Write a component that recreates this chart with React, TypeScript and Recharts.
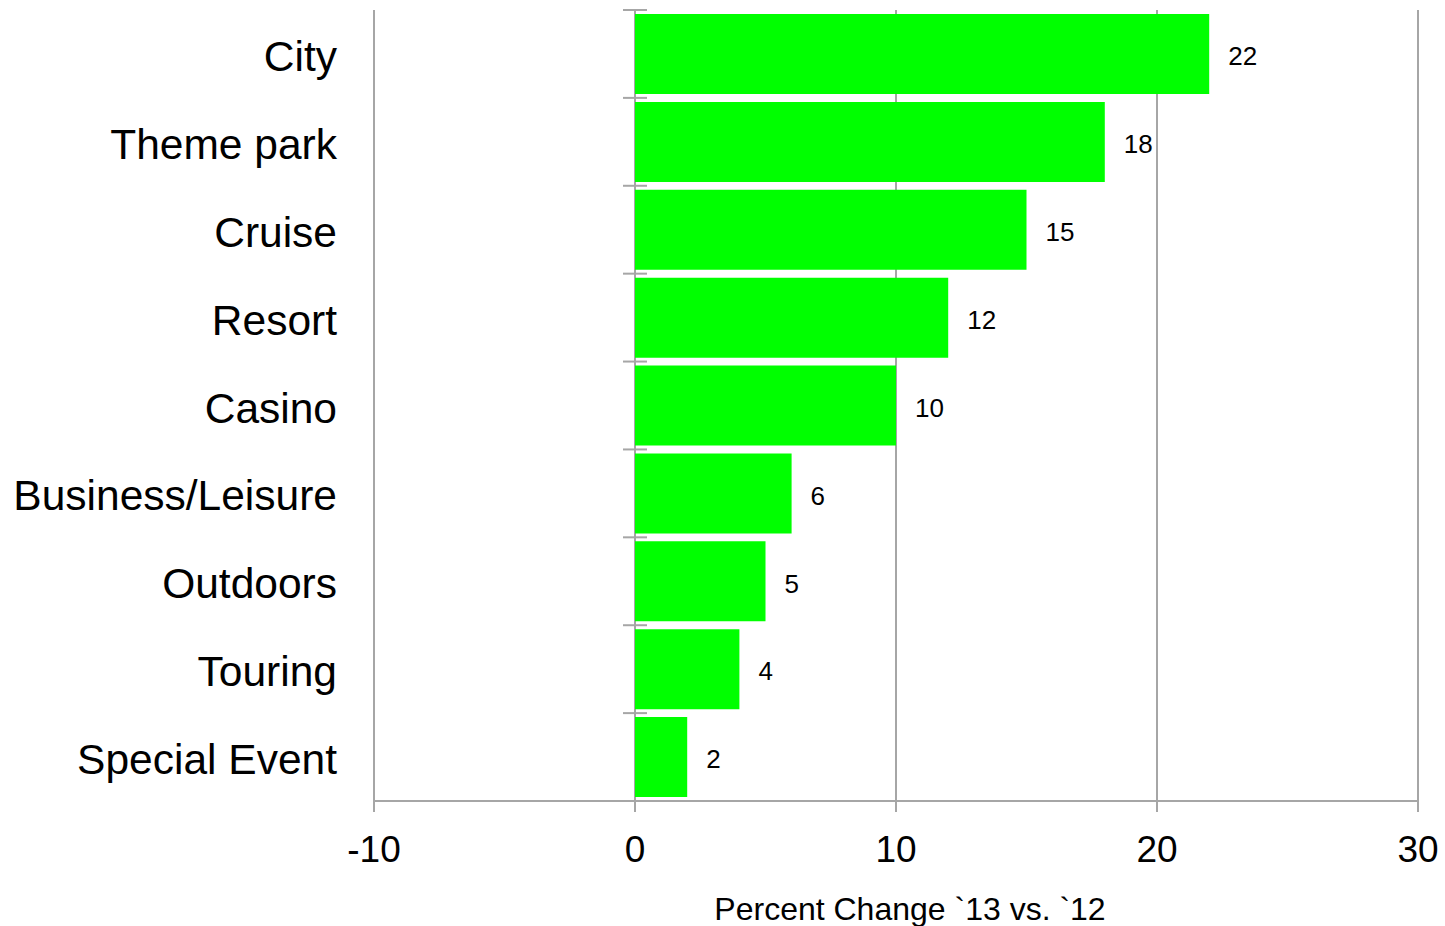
import { BarChart, Bar, XAxis, YAxis, CartesianGrid, LabelList, Customized, usePlotArea } from "recharts";

const categories = ["City", "Theme park", "Cruise", "Resort", "Casino", "Business/Leisure", "Outdoors", "Touring", "Special Event"];
const changes = [22, 18, 15, 12, 10, 6, 5, 4, 2];
const xTicks = [-10, 0, 10, 20, 30];

const data = categories.map((name, i) => ({ name, change: changes[i] }));

const GRID = "#a6a6a6";
const FONT = "'Liberation Sans', Arial, sans-serif";

// short ticks across the zero line, at the category boundaries
function BoundaryTicks() {
  const area = usePlotArea();
  if (!area) return null;
  const min = xTicks[0];
  const max = xTicks[xTicks.length - 1];
  const zeroX = area.x + (area.width * (0 - min)) / (max - min);
  const step = area.height / categories.length;
  return (
    <g>
      {categories.map((_, i) => (
        <line
          key={i}
          x1={zeroX - 12}
          x2={zeroX + 12}
          y1={area.y + i * step}
          y2={area.y + i * step}
          stroke={GRID}
          strokeWidth={2}
        />
      ))}
    </g>
  );
}

export default function App() {
  return (
    <div style={{ position: "absolute", left: 0, top: 0, background: "#fff" }}>
      <BarChart
        width={1445}
        height={926}
        data={data}
        layout="vertical"
        margin={{ top: 10, right: 27, left: 0, bottom: 0 }}
        barCategoryGap={4}
      >
        <CartesianGrid horizontal={false} stroke={GRID} strokeWidth={2} />
        <XAxis
          type="number"
          domain={[-10, 30]}
          ticks={xTicks}
          height={125}
          stroke={GRID}
          strokeWidth={2}
          tickSize={11}
          tickMargin={24}
          tick={{ fill: "#000", fontSize: 37, fontFamily: FONT }}
          label={{
            value: "Percent Change `13 vs. `12",
            position: "insideBottom",
            offset: 6,
            dx: 14,
            fill: "#000",
            fontSize: 32,
            fontFamily: FONT,
          }}
        />
        <YAxis
          type="category"
          dataKey="name"
          width={374}
          axisLine={false}
          tickLine={false}
          tickSize={0}
          tickMargin={37}
          interval={0}
          tick={{ fill: "#000", fontSize: 42.5, fontFamily: FONT, dy: 2 }}
        />
        <Bar dataKey="change" fill="#00ff00" isAnimationActive={false}>
          <LabelList dataKey="change" position="right" offset={19} fill="#000" fontSize={26} fontFamily={FONT} dy={2} />
        </Bar>
        <Customized component={<BoundaryTicks />} />
      </BarChart>
    </div>
  );
}
